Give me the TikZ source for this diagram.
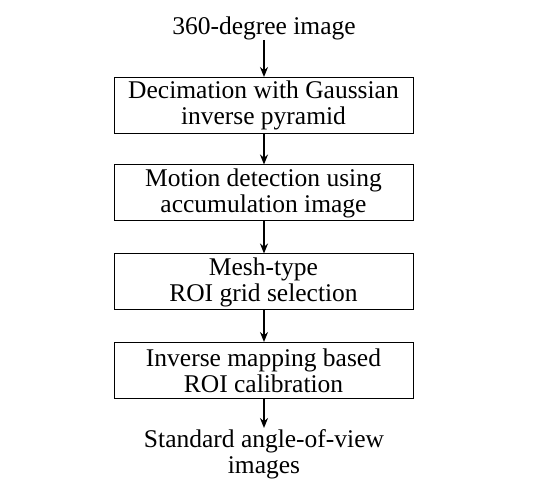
\documentclass[tikz,border=0pt]{standalone}
\usepackage{fontspec}
\setmainfont{Liberation Serif}
\usetikzlibrary{arrows.meta}
\begin{document}
\begin{tikzpicture}[x=1pt,y=-1pt,
  box/.style={draw, line width=1pt, minimum width=299pt, minimum height=56pt, inner sep=0pt, align=center, font=\fontsize{25.5}{26}\selectfont},
  txt/.style={align=center, inner sep=0pt, font=\fontsize{25.5}{26}\selectfont},
  arr/.style={-{Stealth[length=10pt,width=8pt]}, line width=1.4pt}]
\useasboundingbox (0,0) rectangle (542,497);
\node[txt] (t0) at (264,28) {360-degree image};
\node[box] (b1) at (263.5,105.5) {Decimation with Gaussian\\inverse pyramid};
\node[box] (b2) at (263.5,193) {Motion detection using\\accumulation image};
\node[box] (b3) at (263.5,282) {Mesh-type\\ROI grid selection};
\node[box] (b4) at (263.5,370.5) {Inverse mapping based\\ROI calibration};
\node[txt] (t5) at (264,454) {Standard angle-of-view\\images};
\coordinate (a0) at (264,40);
\coordinate (a5) at (264,428);
\draw[arr] (a0) -- (b1.north -| a0);
\draw[arr] (b1.south -| a0) -- (b2.north -| a0);
\draw[arr] (b2.south -| a0) -- (b3.north -| a0);
\draw[arr] (b3.south -| a0) -- (b4.north -| a0);
\draw[arr] (b4.south -| a0) -- (a5);
\end{tikzpicture}
\end{document}
